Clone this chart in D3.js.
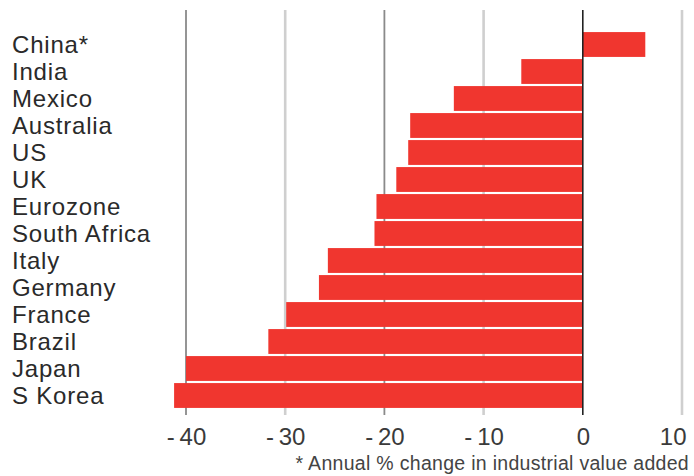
<!DOCTYPE html>
<html>
<head>
<meta charset="utf-8">
<script src="https://cdn.jsdelivr.net/npm/d3@7"></script>
<style>
  html, body { margin: 0; padding: 0; background: #fff; }
  svg { display: block; }
  text { font-family: "Liberation Sans", Arial, sans-serif; }
</style>
</head>
<body>
<svg id="chart" width="694" height="476"></svg>
<script>
const categories = ["China*", "India", "Mexico", "Australia", "US", "UK", "Eurozone",
  "South Africa", "Italy", "Germany", "France", "Brazil", "Japan", "S Korea"];
const values = [6.3, -6.2, -13.0, -17.4, -17.6, -18.8, -20.8, -21.0, -25.7, -26.6, -29.9, -31.7, -40.0, -41.2];
const tickValues = [-40, -30, -20, -10, 0, 10];
const tickLabels = ["-\u200940", "-\u200930", "-\u200920", "-\u200910", "0", "10"];
const footnote = "* Annual % change in industrial value added";

const svg = d3.select("#chart");

const x = d3.scaleLinear().domain([-40, 10]).range([186, 682]);
const y = d3.scaleBand().domain(categories).range([31, 409]).paddingInner(0.08).paddingOuter(0.04);

// gridlines
svg.append("g").selectAll("line")
  .data(tickValues.filter(d => d !== 0))
  .join("line")
  .attr("x1", d => x(d)).attr("x2", d => x(d))
  .attr("y1", 10).attr("y2", 415)
  .attr("stroke", d => (d % 20 === 0) ? "#8a8a8a" : "#cfcfcf")
  .attr("stroke-width", d => (d % 20 === 0) ? 1.8 : 2.6);

// bars
svg.append("g").selectAll("rect")
  .data(categories.map((c, i) => ({ c, v: values[i] })))
  .join("rect")
  .attr("x", d => x(Math.min(0, d.v)))
  .attr("width", d => Math.abs(x(d.v) - x(0)))
  .attr("y", d => y(d.c))
  .attr("height", y.bandwidth())
  .attr("fill", "#f0362f");

// zero line
svg.append("line")
  .attr("x1", x(0)).attr("x2", x(0))
  .attr("y1", 10).attr("y2", 415)
  .attr("stroke", "#222").attr("stroke-width", 1.6);

// category labels
svg.append("g").selectAll("text")
  .data(categories)
  .join("text")
  .attr("x", 12)
  .attr("y", d => y(d) + y.bandwidth() / 2)
  .attr("dy", "0.36em")
  .attr("font-size", 24)
  .attr("letter-spacing", 0.8)
  .attr("fill", "#2a2a2a")
  .text(d => d);

// x axis tick labels
const axis = d3.axisBottom(x).tickValues(tickValues)
  .tickFormat((d, i) => tickLabels[i]).tickSize(0).tickPadding(0);
const gAxis = svg.append("g").attr("transform", "translate(0,428)").call(axis);
gAxis.select(".domain").remove();
gAxis.selectAll("text")
  .attr("font-size", 24)
  .attr("fill", "#3a3a3a")
  .attr("dy", "0.72em")
  .attr("font-family", "'Liberation Sans', Arial, sans-serif");
// keep the last label inside the frame
gAxis.selectAll(".tick").filter(d => d === tickValues[tickValues.length - 1])
  .select("text").attr("text-anchor", "end").attr("x", 4);

// footnote
svg.append("text")
  .attr("x", 689).attr("y", 470)
  .attr("text-anchor", "end")
  .attr("font-size", 19.5)
  .attr("letter-spacing", 0.3)
  .attr("fill", "#444")
  .text(footnote);
</script>
</body>
</html>
